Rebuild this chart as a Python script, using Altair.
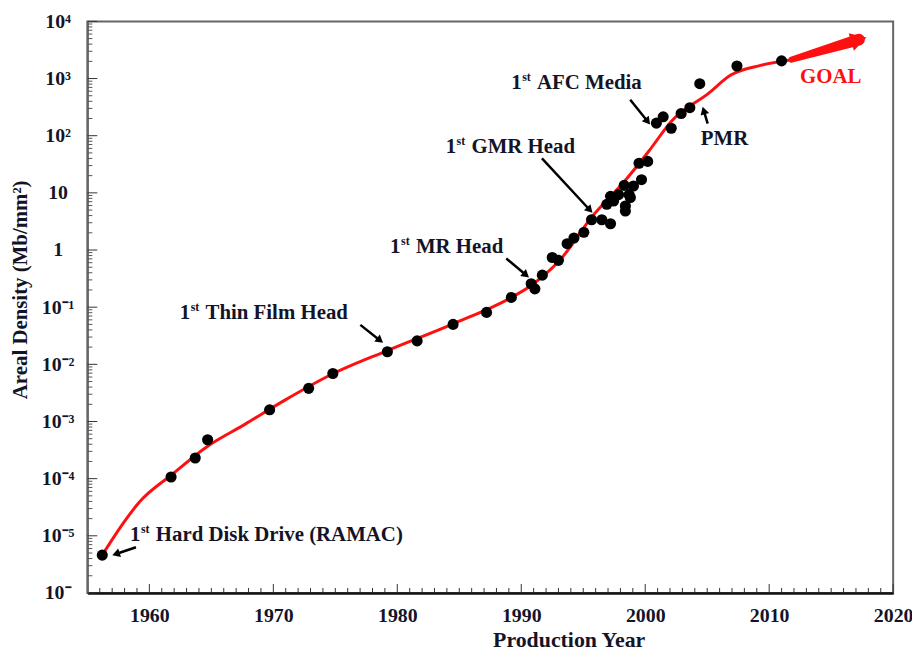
import math
import altair as alt
import pandas as pd

# ---------------- data ----------------
POINT_YEARS = [1956.2, 1961.75, 1963.7, 1964.7, 1969.7, 1972.85, 1974.8, 1979.2, 1981.6,
               1984.5, 1987.2, 1989.2, 1990.8, 1991.1, 1991.7, 1992.5, 1993.0, 1993.7,
               1994.25, 1995.05, 1995.67, 1996.5, 1997.2, 1996.9, 1997.45, 1997.2, 1997.85,
               1998.3, 1998.7, 1998.4, 1998.4, 1998.8, 1999.05, 1999.7, 1999.5, 2000.2,
               2000.9, 2001.45, 2002.1, 2002.9, 2003.6, 2004.4, 2007.4, 2011.0]
POINT_DENSITY = [4.6e-6, 1.07e-4, 2.3e-4, 4.8e-4, 1.6e-3, 3.8e-3, 6.9e-3, 0.0166, 0.0257,
                 0.050, 0.081, 0.148, 0.257, 0.209, 0.363, 0.74, 0.66, 1.29,
                 1.62, 2.04, 3.39, 3.39, 2.88, 6.3, 7.2, 8.7, 9.3,
                 13.5, 9.3, 5.9, 4.8, 8.3, 13.2, 17.0, 33.0, 35.5,
                 166, 214, 135, 245, 309, 813, 1660, 2040]

FIT_YEARS = [1956.2, 1957.7, 1959.2, 1961.8, 1964.7, 1967.7, 1970.9, 1974.6, 1979.2,
             1984.5, 1989.2, 1990.8, 1993.1, 1995.7, 1998.4, 2000.3, 2002.1, 2005.1,
             2006.9, 2009.3, 2011.8]
FIT_DENSITY = [4.6e-6, 1.45e-5, 3.9e-5, 1.17e-4, 3.7e-4, 8.9e-4, 2.34e-3, 6.5e-3, 0.0174,
               0.051, 0.148, 0.24, 0.66, 3.8, 16.6, 54, 178, 550,
               1150, 1700, 2140]

GOAL_YEARS = [2011.8, 2017.85]
GOAL_DENSITY = [2140, 5250]

ARROW_START_YEAR = [1958.92, 1977.02, 1988.79, 1991.67, 1998.79, 2005.04]
ARROW_START_DENSITY = [6.3e-6, 0.049, 0.71, 40.0, 425.0, 163.0]
ARROW_TIP_YEAR = [1957.0, 1978.86, 1990.63, 1995.75, 2000.40, 2004.63]
ARROW_TIP_DENSITY = [4.57e-6, 0.0237, 0.33, 4.46, 156.0, 321.0]

LABEL_TEXT = ["Hard Disk Drive (RAMAC)", "Thin Film Head", "MR Head", "GMR Head", "AFC Media"]
LABEL_YEAR = [1958.44, 1962.45, 1979.42, 1983.90, 1989.19]
LABEL_DENSITY = [1.02e-5, 0.0787, 1.15, 62.4, 840.0]

PMR_TEXT = ["PMR"]
PMR_YEAR = [2004.48]
PMR_DENSITY = [86.0]

GOAL_TEXT = ["GOAL"]
GOAL_LABEL_YEAR = [2012.49]
GOAL_LABEL_DENSITY = [1067.0]

X_TICKS = [1960, 1970, 1980, 1990, 2000, 2010, 2020]
Y_TICKS = [1e-6, 1e-5, 1e-4, 1e-3, 1e-2, 1e-1, 1, 10, 100, 1000, 10000]
Y_TICK_LABELS = ["10\u207b", "10\u207b\u2075", "10\u207b\u2074", "10\u207b\u00b3", "10\u207b\u00b2",
                 "10\u207b\u00b9", "1", "10", "10\u00b2", "10\u00b3", "10\u2074"]

# ---------------- layout / style ----------------
W, H = 812, 576
X_DOM = [1955, 2020]
Y_DOM = [1e-6, 1e4]
PXY = W / (X_DOM[1] - X_DOM[0])
PXD = H / (math.log10(Y_DOM[1]) - math.log10(Y_DOM[0]))
FONT = "Liberation Serif"
TXT = "#141428"
RED = "#ff1010"

xscale = alt.Scale(domain=X_DOM, nice=False, zero=False)
yscale = alt.Scale(type="log", domain=Y_DOM, nice=False)

xaxis = alt.Axis(values=X_TICKS, format="d", grid=False, tickSize=0, labelPadding=23,
                 labelFont=FONT, labelFontSize=20, labelFontWeight="bold", labelColor=TXT,
                 labelBaseline="middle", labelAlign="center",
                 domainColor="#111111", domainWidth=2.5,
                 title="Production Year", titleFont=FONT, titleFontSize=22,
                 titleFontWeight="bold", titleColor=TXT, titleX=485, titleY=54,
                 titleBaseline="alphabetic", titleAlign="center")
label_expr = "[" + ",".join("'%s'" % s for s in Y_TICK_LABELS) + "][round(log(datum.value)/LN10)+6]"
yaxis = alt.Axis(values=Y_TICKS, labelExpr=label_expr, grid=False, tickSize=0, labelPadding=30,
                 labelFont=FONT, labelFontSize=20, labelFontWeight="bold", labelColor=TXT,
                 labelAlign="center", labelBaseline="middle",
                 domainColor="#666666", domainWidth=2,
                 title="Areal Density (Mb/mm\u00b2)", titleFont=FONT, titleFontSize=21,
                 titleFontWeight="bold", titleColor=TXT, titleX=-67, titleY=270,
                 titleAngle=270, titleBaseline="middle", titleAlign="center")

X = alt.X("year:Q", scale=xscale, axis=xaxis)
Y = alt.Y("density:Q", scale=yscale, axis=yaxis)

# ---------------- tables ----------------
pts = pd.DataFrame({"year": POINT_YEARS, "density": POINT_DENSITY})
fit = pd.DataFrame({"year": FIT_YEARS, "density": FIT_DENSITY})

# inside ticks
xt_major = pd.DataFrame({"year": [y for y in range(1955, 2021) if y % 10 == 0]})
xt_minor = pd.DataFrame({"year": [y for y in range(1956, 2021) if y % 10 != 0]})
yt_major = pd.DataFrame({"density": Y_TICKS})
yt_minor = pd.DataFrame({"density": [m * 10 ** k for k in range(-6, 4) for m in range(2, 10)]})


def head_geom(sy, sd, ty, td, back):
    dx = (ty - sy) * PXY
    dy = -(math.log10(td) - math.log10(sd)) * PXD
    n = math.hypot(dx, dy)
    ux, uy = dx / n, dy / n
    ang = math.degrees(math.atan2(dx, -dy)) % 360
    hy = ty - ux * back / PXY
    hd = 10 ** (math.log10(td) + uy * back / PXD)
    return hy, hd, ang


line_rows, head_rows = [], []
for sy, sd, ty, td in zip(ARROW_START_YEAR, ARROW_START_DENSITY, ARROW_TIP_YEAR, ARROW_TIP_DENSITY):
    hy, hd, ang = head_geom(sy, sd, ty, td, 4.0)
    line_rows.append({"year": sy, "density": sd, "year2": hy, "density2": hd})
    head_rows.append({"year": hy, "density": hd, "ang": ang})
arrow_l = pd.DataFrame(line_rows)
arrow_h = pd.DataFrame(head_rows)

gy, gd, gang = head_geom(GOAL_YEARS[0], GOAL_DENSITY[0], GOAL_YEARS[1], GOAL_DENSITY[1], 8.0)
goal_body = pd.DataFrame({"year": [GOAL_YEARS[0], gy], "density": [GOAL_DENSITY[0], gd], "w": [6, 12]})
goal_head = pd.DataFrame({"year": [gy], "density": [gd], "ang": [gang]})

labels = pd.DataFrame({"year": LABEL_YEAR, "density": LABEL_DENSITY, "text": LABEL_TEXT})
pmr = pd.DataFrame({"year": PMR_YEAR, "density": PMR_DENSITY, "text": PMR_TEXT})
goal_lbl = pd.DataFrame({"year": GOAL_LABEL_YEAR, "density": GOAL_LABEL_DENSITY, "text": GOAL_TEXT})

# ---------------- layers ----------------
base_pts = alt.Chart(pts).mark_circle(size=125, color="black", opacity=1).encode(x=X, y=Y)
fit_line = alt.Chart(fit).mark_line(color=RED, strokeWidth=3, interpolate="monotone").encode(x=X, y=Y)

tick_xM = alt.Chart(xt_major).mark_rule(color="#333333", strokeWidth=1).encode(
    x=X, y=alt.value(H), y2=alt.value(H - 9))
tick_xm = alt.Chart(xt_minor).mark_rule(color="#333333", strokeWidth=1).encode(
    x=X, y=alt.value(H), y2=alt.value(H - 5))
tick_yM = alt.Chart(yt_major).mark_rule(color="#333333", strokeWidth=1).encode(
    y=Y, x=alt.value(0), x2=alt.value(10))
tick_ym = alt.Chart(yt_minor).mark_rule(color="#555555", strokeWidth=1).encode(
    y=Y, x=alt.value(0), x2=alt.value(5))

arrow_lines = alt.Chart(arrow_l).mark_rule(color="black", strokeWidth=2.5).encode(
    x=X, y=Y, x2="year2:Q", y2="density2:Q")
arrow_heads = alt.Chart(arrow_h).mark_point(shape="triangle-up", filled=True, size=80,
                                            color="black", opacity=1).encode(
    x=X, y=Y, angle=alt.Angle("ang:Q", scale=None))

goal_trail = alt.Chart(goal_body).mark_trail(color=RED).encode(
    x=X, y=Y, size=alt.Size("w:Q", scale=None, legend=None))
goal_tip = alt.Chart(goal_head).mark_point(shape="triangle-up", filled=True, size=340,
                                           color=RED, opacity=1).encode(
    x=X, y=Y, angle=alt.Angle("ang:Q", scale=None))

txt_kw = dict(font=FONT, fontWeight="bold", align="left", baseline="middle", color=TXT)
lab_one = alt.Chart(labels).mark_text(fontSize=21, text="1", **txt_kw).encode(x=X, y=Y)
lab_st = alt.Chart(labels).mark_text(fontSize=12, text="st", dx=11, dy=-6, **txt_kw).encode(x=X, y=Y)
lab_rest = alt.Chart(labels).mark_text(fontSize=21, dx=26, **txt_kw).encode(x=X, y=Y, text="text:N")
lab_pmr = alt.Chart(pmr).mark_text(fontSize=21, **txt_kw).encode(x=X, y=Y, text="text:N")
goal_kw = dict(txt_kw)
goal_kw["color"] = RED
lab_goal = alt.Chart(goal_lbl).mark_text(fontSize=21, **goal_kw).encode(x=X, y=Y, text="text:N")

chart = alt.layer(
    tick_xM, tick_xm, tick_yM, tick_ym,
    fit_line, base_pts,
    arrow_lines, arrow_heads, goal_trail, goal_tip,
    lab_one, lab_st, lab_rest, lab_pmr, lab_goal,
).properties(
    width=W, height=H,
    autosize=alt.AutoSizeParams(type="none"),
    padding={"left": 80, "top": 11, "right": 19, "bottom": 56},
    background="white",
).configure_view(stroke="#666666", strokeWidth=2)

chart.save("out.html", embed_options={"renderer": "svg", "actions": False})
